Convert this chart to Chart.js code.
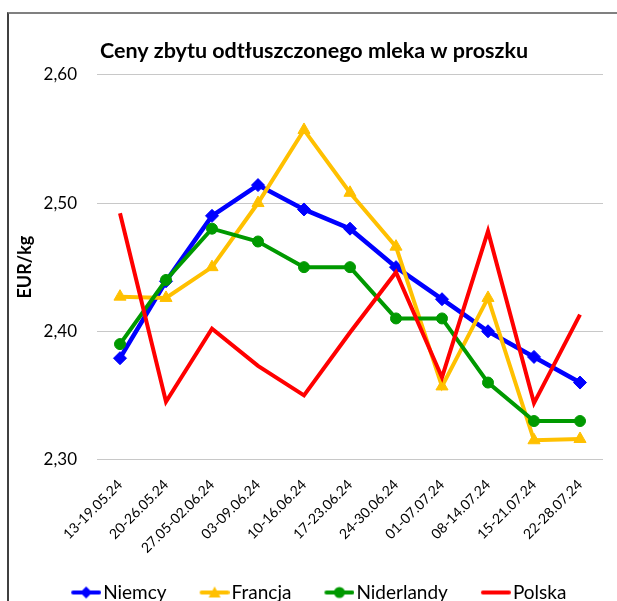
<!DOCTYPE html>
<html>
<head>
<meta charset="utf-8">
<script src="https://cdn.jsdelivr.net/npm/chart.js@4.4.0/dist/chart.umd.min.js"></script>
<style>
    html, body { margin: 0; padding: 0; background: #fff; overflow: hidden; }
    #ramka { position: absolute; left: 7px; top: 12px; width: 620px; height: 700px;
             border-top: 2px solid #808080; border-left: 2px solid #404040; }
    #wykres { position: absolute; left: 0; top: 0; width: 617px; height: 612px; }
</style>
</head>
<body>
<div id="ramka"></div>
<div id="wykres"><canvas id="mlekoChart"></canvas></div>
<script>
// Tygodnie notowań
const tygodnie = ['13-19.05.24', '20-26.05.24', '27.05-02.06.24', '03-09.06.24', '10-16.06.24',
    '17-23.06.24', '24-30.06.24', '01-07.07.24', '08-14.07.24', '15-21.07.24', '22-28.07.24'];

// Ceny w EUR/kg
const niemcy     = [2.379, 2.439, 2.49, 2.514, 2.495, 2.48, 2.45, 2.425, 2.40, 2.38, 2.36];
const francja    = [2.427, 2.426, 2.45, 2.50, 2.557, 2.508, 2.466, 2.357, 2.426, 2.315, 2.316];
const niderlandy = [2.39, 2.44, 2.48, 2.47, 2.45, 2.45, 2.41, 2.41, 2.36, 2.33, 2.33];
const polska     = [2.492, 2.345, 2.402, 2.373, 2.35, 2.399, 2.446, 2.364, 2.478, 2.344, 2.413];

const ticksY = [2.30, 2.40, 2.50, 2.60];

Chart.defaults.font.family = "Lato, 'Open Sans', sans-serif";
Chart.defaults.color = '#000';

// Ikona legendy: linia z markerem (jak w Excelu), dosunięta do prawej krawędzi obrazka
function ikonaLegendy(kolor, ksztalt) {
    const c = document.createElement('canvas');
    c.width = 47;
    c.height = 16;
    const g = c.getContext('2d');
    const sx = 32;
    g.strokeStyle = kolor;
    g.fillStyle = kolor;
    g.lineWidth = 4;
    g.lineCap = 'round';
    g.beginPath();
    g.moveTo(sx - 13, 8);
    g.lineTo(sx + 13, 8);
    g.stroke();
    g.beginPath();
    if (ksztalt === 'rectRot') {
        g.moveTo(sx, 2); g.lineTo(sx + 6, 8); g.lineTo(sx, 14); g.lineTo(sx - 6, 8);
    } else if (ksztalt === 'triangle') {
        g.moveTo(sx, 2); g.lineTo(sx + 6, 13); g.lineTo(sx - 6, 13);
    } else if (ksztalt === 'circle') {
        g.arc(sx, 8, 5.5, 0, Math.PI * 2);
    }
    g.closePath();
    g.fill();
    return c;
}

const serie = [
    { label: 'Niemcy', data: niemcy, kolor: '#0000ff', ksztalt: 'rectRot', r: 6.5, w: 4.5, order: 4 },
    { label: 'Francja', data: francja, kolor: '#ffc000', ksztalt: 'triangle', r: 7, w: 4, order: 3 },
    { label: 'Niderlandy', data: niderlandy, kolor: '#009900', ksztalt: 'circle', r: 5.5, w: 4, order: 2 },
    { label: 'Polska', data: polska, kolor: '#ff0000', ksztalt: false, r: 0, w: 4, order: 1 }
];

const ikony = serie.map(s => ikonaLegendy(s.kolor, s.ksztalt));

const dane = {
    labels: tygodnie,
    datasets: serie.map(s => ({
        label: s.label,
        data: s.data,
        borderColor: s.kolor,
        backgroundColor: s.kolor,
        borderWidth: s.w,
        pointStyle: s.ksztalt,
        pointRadius: s.r,
        pointBackgroundColor: s.kolor,
        pointBorderColor: s.kolor,
        pointBorderWidth: 1,
        tension: 0,
        order: s.order
    }))
};

const opcje = {
    responsive: true,
    maintainAspectRatio: false,
    animation: false,
    layout: {
        padding: { left: 25, right: 14, top: 0, bottom: 0 }
    },
    plugins: {
        title: {
            display: true,
            text: 'Ceny zbytu odtłuszczonego mleka w proszku',
            color: '#000',
            font: { size: 21.5, weight: 'bold' },
            padding: { top: 38, bottom: 11 }
        },
        legend: {
            position: 'bottom',
            labels: {
                usePointStyle: true,
                pointStyleWidth: 32,
                padding: 23.5,
                color: '#000',
                font: { size: 19 },
                sort: (a, b) => a.datasetIndex - b.datasetIndex,
                generateLabels: function(chart) {
                    const items = Chart.defaults.plugins.legend.labels.generateLabels(chart);
                    items.forEach(it => { it.pointStyle = ikony[it.datasetIndex]; });
                    return items;
                }
            }
        },
        tooltip: { enabled: false }
    },
    scales: {
        x: {
            offset: true,
            grid: { display: false },
            border: { display: false },
            ticks: {
                autoSkip: false,
                minRotation: 45,
                maxRotation: 45,
                padding: 9,
                color: '#000',
                font: { size: 14 }
            },
            afterFit: function(scale) { scale.height = 100; }
        },
        y: {
            min: 2.3,
            max: 2.6,
            afterBuildTicks: function(scale) { scale.ticks = ticksY.map(v => ({ value: v })); },
            ticks: {
                padding: 20,
                color: '#000',
                font: { size: 17 },
                callback: function(value) { return value.toFixed(2).replace('.', ','); }
            },
            grid: { color: '#c8c8c8', lineWidth: 1, drawTicks: false },
            border: { display: false },
            title: {
                display: true,
                text: 'EUR/kg',
                color: '#000',
                font: { size: 18, weight: 'bold' },
                padding: { top: -10.3, bottom: 0 }
            },
            afterFit: function(scale) { scale.width = 72; }
        }
    }
};

new Chart(document.getElementById('mlekoChart').getContext('2d'), {
    type: 'line',
    data: dane,
    options: opcje
});
</script>
</body>
</html>
